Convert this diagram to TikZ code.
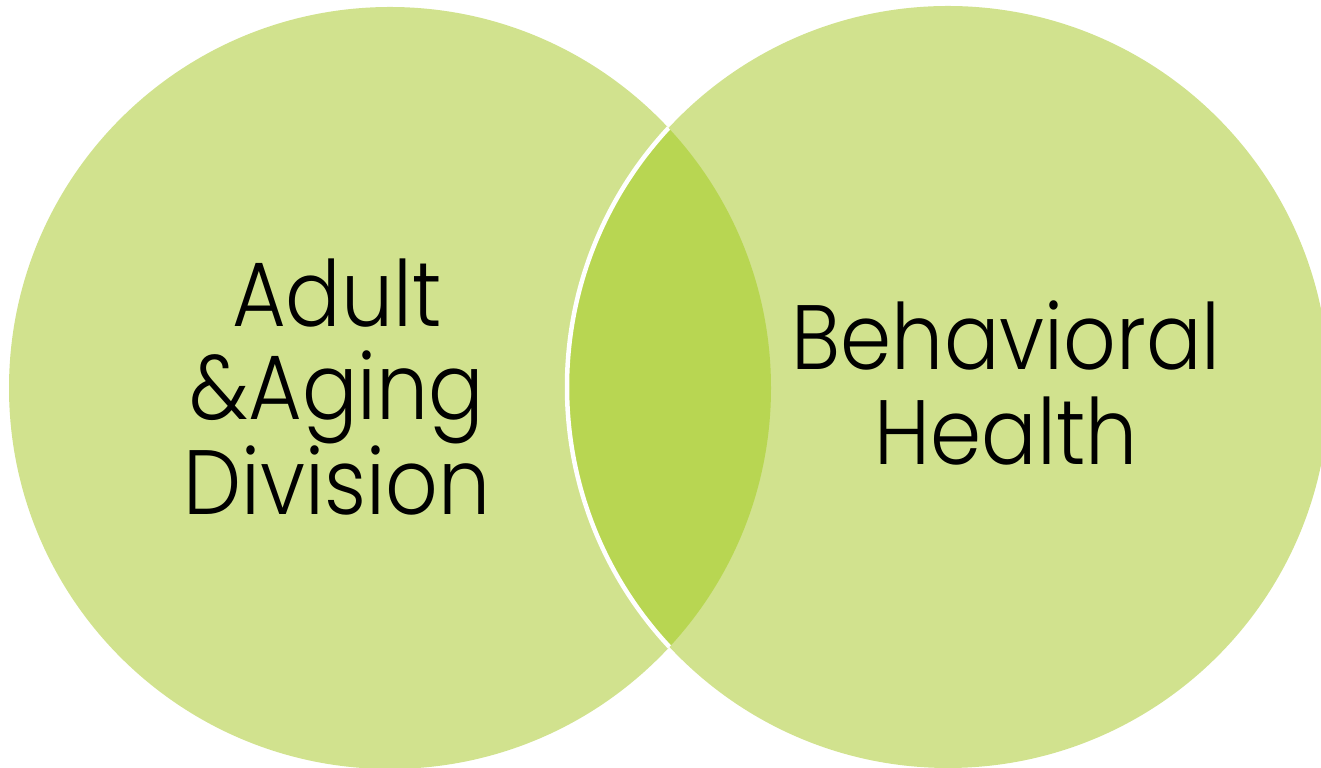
\documentclass[tikz,border=0pt]{standalone}
\usepackage{fontspec}
\setmainfont{Poppins Light}[FakeStretch=0.9]
\definecolor{vennfill}{HTML}{D1E28E}
\definecolor{lensfill}{HTML}{B8D652}
\begin{document}
\begin{tikzpicture}[x=0.01cm,y=-0.01cm,
  label/.style={anchor=base,inner sep=0pt,text=black,font=\fontsize{26}{27}\selectfont}]
\useasboundingbox (0,0) rectangle (1321,768);
% the two sets
\fill[vennfill] (390,388) circle[radius=381];
\fill[vennfill] (948,387) circle[radius=381];
% overlap of the sets
\begin{scope}
  \clip (390,388) circle[radius=381];
  \fill[lensfill] (948,387) circle[radius=381];
  \draw[white,line width=0.045cm] (948,387) circle[radius=381];
\end{scope}
% labels
\node[label] (adultA) at (337,327) {Adult};
\node[label] (adultB) at (337,420) {\&Aging};
\node[label] (adultC) at (337,515) {Division};
\node[label] (behavA) at (1006,370) {Behavioral};
\node[label] (behavB) at (1006,465) {Health};
\end{tikzpicture}
\end{document}
